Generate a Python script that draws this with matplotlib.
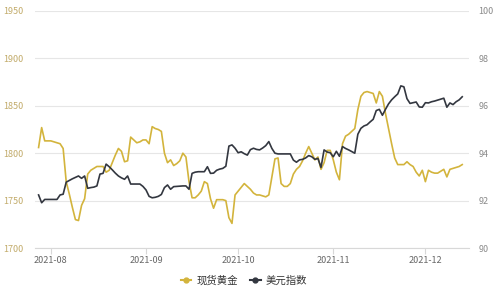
import matplotlib
matplotlib.use("Agg")
import matplotlib.pyplot as plt
import matplotlib.dates as mdates
import pandas as pd
from matplotlib.lines import Line2D

plt.rcParams['font.family'] = ['Noto Sans CJK SC', 'DejaVu Sans']

gold_dates = pd.date_range("2021-07-28", "2021-12-13", freq="D")
gold_values = [
    1806, 1827, 1813, 1813, 1813, 1812, 1811, 1810, 1805, 1770,
    1757, 1743, 1730, 1729, 1745, 1752, 1778, 1782, 1784, 1786,
    1786, 1786, 1780, 1782, 1790, 1798, 1805, 1802, 1791, 1792,
    1817, 1814, 1811, 1812, 1814, 1814, 1810, 1828, 1826, 1825,
    1823, 1800, 1790, 1793, 1787, 1789, 1792, 1800, 1796, 1770,
    1753, 1753, 1756, 1760, 1770, 1768, 1752, 1742, 1751, 1751,
    1751, 1750, 1732, 1726, 1756, 1760, 1764, 1768, 1765, 1762,
    1758, 1756, 1756, 1755, 1754, 1756, 1775, 1794, 1795, 1768,
    1765, 1765, 1768, 1778, 1783, 1786, 1792, 1800, 1807, 1800,
    1793, 1796, 1783, 1790, 1803, 1803, 1793, 1780, 1772, 1810,
    1818, 1820, 1823, 1826, 1846, 1860, 1864, 1865, 1864, 1863,
    1853, 1865, 1860, 1842, 1826, 1810, 1795, 1788, 1788, 1788,
    1791, 1788, 1786, 1780, 1776, 1782, 1770, 1782, 1780, 1779,
    1779, 1781, 1783, 1775, 1783, 1784, 1785, 1786, 1788,
]

usd_dates = pd.date_range("2021-07-28", "2021-12-13", freq="D")
usd_values = [
    92.24, 91.91, 92.05, 92.05, 92.05, 92.05, 92.05, 92.24, 92.27, 92.78,
    92.85, 92.92, 92.98, 93.04, 92.94, 93.04, 92.52, 92.55, 92.57, 92.62,
    93.12, 93.15, 93.54, 93.43, 93.30, 93.16, 93.04, 92.96, 92.90, 93.04,
    92.70, 92.70, 92.70, 92.70, 92.60, 92.45, 92.18, 92.12, 92.14, 92.18,
    92.26, 92.55, 92.66, 92.48, 92.59, 92.60, 92.61, 92.62, 92.62, 92.48,
    93.15, 93.20, 93.22, 93.22, 93.22, 93.43, 93.15, 93.16, 93.28, 93.33,
    93.36, 93.45, 94.30, 94.35, 94.21, 94.02, 94.06, 93.98, 93.92, 94.15,
    94.21, 94.16, 94.14, 94.22, 94.32, 94.49, 94.20, 94.00, 93.97, 93.97,
    93.97, 93.97, 93.97, 93.71, 93.62, 93.72, 93.74, 93.80, 93.90, 93.85,
    93.74, 93.78, 93.40, 94.14, 94.05, 94.02, 93.85, 94.08, 93.87, 94.28,
    94.20, 94.14, 94.07, 94.00, 94.80, 95.05, 95.15, 95.20, 95.32, 95.43,
    95.80, 95.85, 95.60, 95.85, 96.08, 96.25, 96.38, 96.50, 96.84, 96.80,
    96.30, 96.10, 96.13, 96.16, 95.95, 95.94, 96.13, 96.12, 96.17, 96.20,
    96.24, 96.28, 96.32, 95.94, 96.12, 96.05, 96.17, 96.25, 96.38,
]

gold_ticks = [1700, 1750, 1800, 1850, 1900, 1950]
usd_ticks = [90, 92, 94, 96, 98, 100]
x_ticks = ["2021-08-01", "2021-09-01", "2021-10-01", "2021-11-01", "2021-12-01"]
series_names = ["现货黄金", "美元指数"]

GOLD = "#d3b43c"
DARK = "#333740"

fig = plt.figure(figsize=(5.0, 2.96), dpi=100)
ax = fig.add_axes([0.07, 0.162, 0.868, 0.801])
ax2 = ax.twinx()

ax.plot(gold_dates, gold_values, color=GOLD, lw=1.2, zorder=3)
ax2.plot(usd_dates, usd_values, color=DARK, lw=1.2, zorder=3)

ax.set_ylim(1700, 1950)
ax2.set_ylim(90, 100)
ax.set_yticks(gold_ticks)
ax2.set_yticks(usd_ticks)
ax.set_xlim(pd.Timestamp("2021-07-26 20:00"), pd.Timestamp("2021-12-15 05:00"))
ax.set_xticks(pd.to_datetime(x_ticks))
ax.xaxis.set_major_formatter(mdates.DateFormatter("%Y-%m"))

ax.grid(axis="y", color="#e6e6e6", lw=0.8)
ax.set_axisbelow(True)
for a in (ax, ax2):
    for s in ("top", "left", "right"):
        a.spines[s].set_visible(False)
    a.spines["bottom"].set_color("#d8d8d8")
ax2.spines["bottom"].set_visible(False)

ax.tick_params(axis="y", length=0, labelsize=6.5, labelcolor="#c2ab6a", pad=8)
ax2.tick_params(axis="y", length=0, labelsize=6.5, labelcolor="#8a8a8a", pad=7)
ax.tick_params(axis="x", length=4, color="#d8d8d8", labelsize=6.5, labelcolor="#666666", pad=1.5)

handles = [
    Line2D([0], [0], color=GOLD, lw=1.5, marker="o", markersize=3.5),
    Line2D([0], [0], color=DARK, lw=1.5, marker="o", markersize=3.5),
]
fig.legend(handles, series_names, loc="center", bbox_to_anchor=(0.488, 0.052), ncol=2,
           frameon=False, fontsize=7.5, handlelength=1.0, columnspacing=1.2,
           labelcolor="#333333", handletextpad=0.5)

fig.savefig("out.png", dpi=100)
